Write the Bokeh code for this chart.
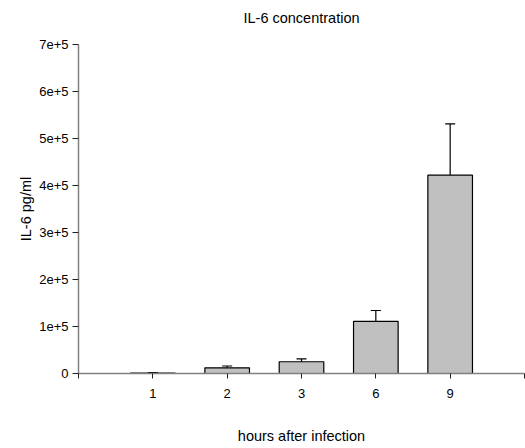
from bokeh.plotting import figure
from bokeh.models import ColumnDataSource, FixedTicker, Range1d, Whisker, TeeHead, Title
from bokeh.embed import file_html
from bokeh.resources import INLINE

# IL-6 concentration per time point (pg/ml), mean and mean + SE
hours = ["1", "2", "3", "6", "9"]
il6_mean = [1000, 12000, 25000, 111000, 422000]
il6_upper = [2000, 16000, 31000, 134000, 531000]
y_ticks = [0, 100000, 200000, 300000, 400000, 500000, 600000, 700000]
y_tick_labels = ["0", "1e+5", "2e+5", "3e+5", "4e+5", "5e+5", "6e+5", "7e+5"]
chart_title = "IL-6 concentration"

pos = list(range(1, len(hours) + 1))
x_end = len(hours) + 1
src = ColumnDataSource(dict(x=pos, top=il6_mean, upper=il6_upper, base=il6_mean))

FONT = "Liberation Sans"
AXIS_COLOR = "#808080"

p = figure(width=525, height=448, output_backend="svg", toolbar_location=None,
           x_range=Range1d(0, x_end), y_range=Range1d(0, 700000),
           min_border_left=78, min_border_right=1, min_border_top=44, min_border_bottom=75,
           title=chart_title)
p.outline_line_color = None
p.grid.visible = False
p.background_fill_color = "white"
p.border_fill_color = "white"

p.title.align = "center"
p.title.text_font = FONT
p.title.text_font_size = "14.5px"
p.title.text_font_style = "normal"
p.title.text_color = "black"
p.title.offset = 6
p.title.standoff = 0

# blank band between the title and the plot frame
p.add_layout(Title(text=" ", text_font_size="15px", standoff=0), "above")

p.vbar(x="x", top="top", width=0.6, source=src, fill_color="#c0c0c0",
       line_color="black", line_width=1.2)

p.add_layout(Whisker(source=src, base="x", upper="upper", lower="base",
                     line_color="black", line_width=1.2,
                     upper_head=TeeHead(size=10, line_color="black", line_width=1.2),
                     lower_head=None))

# x axis: categories at integer positions, plus ticks at both ends
p.xaxis.ticker = FixedTicker(ticks=[0] + pos + [x_end])
p.xaxis.major_label_overrides = {i: h for i, h in zip(pos, hours)} | {0: "", x_end: ""}
p.xaxis.axis_label = "hours after infection"
p.xaxis.axis_label_standoff = 27
p.xaxis.major_label_standoff = 10
p.xaxis.major_tick_out = 5
p.xaxis.major_tick_in = 0
p.xaxis.minor_tick_line_color = None

p.yaxis.ticker = FixedTicker(ticks=y_ticks)
p.yaxis.major_label_overrides = {t: l for t, l in zip(y_ticks, y_tick_labels)}
p.yaxis.axis_label = "IL-6 pg/ml"
p.yaxis.axis_label_standoff = 2
p.yaxis.major_label_standoff = 4
p.yaxis.major_tick_out = 6
p.yaxis.major_tick_in = 0
p.yaxis.minor_tick_line_color = None

for ax in (p.xaxis, p.yaxis):
    ax.axis_line_color = AXIS_COLOR
    ax.axis_line_width = 1.5
    ax.major_tick_line_color = "#222222"
    ax.major_label_text_font = FONT
    ax.major_label_text_font_size = "13px"
    ax.major_label_text_color = "black"
    ax.axis_label_text_font = FONT
    ax.axis_label_text_font_size = "14.5px"
    ax.axis_label_text_font_style = "normal"
    ax.axis_label_text_color = "black"

open("out.html", "w").write(file_html(p, INLINE))
